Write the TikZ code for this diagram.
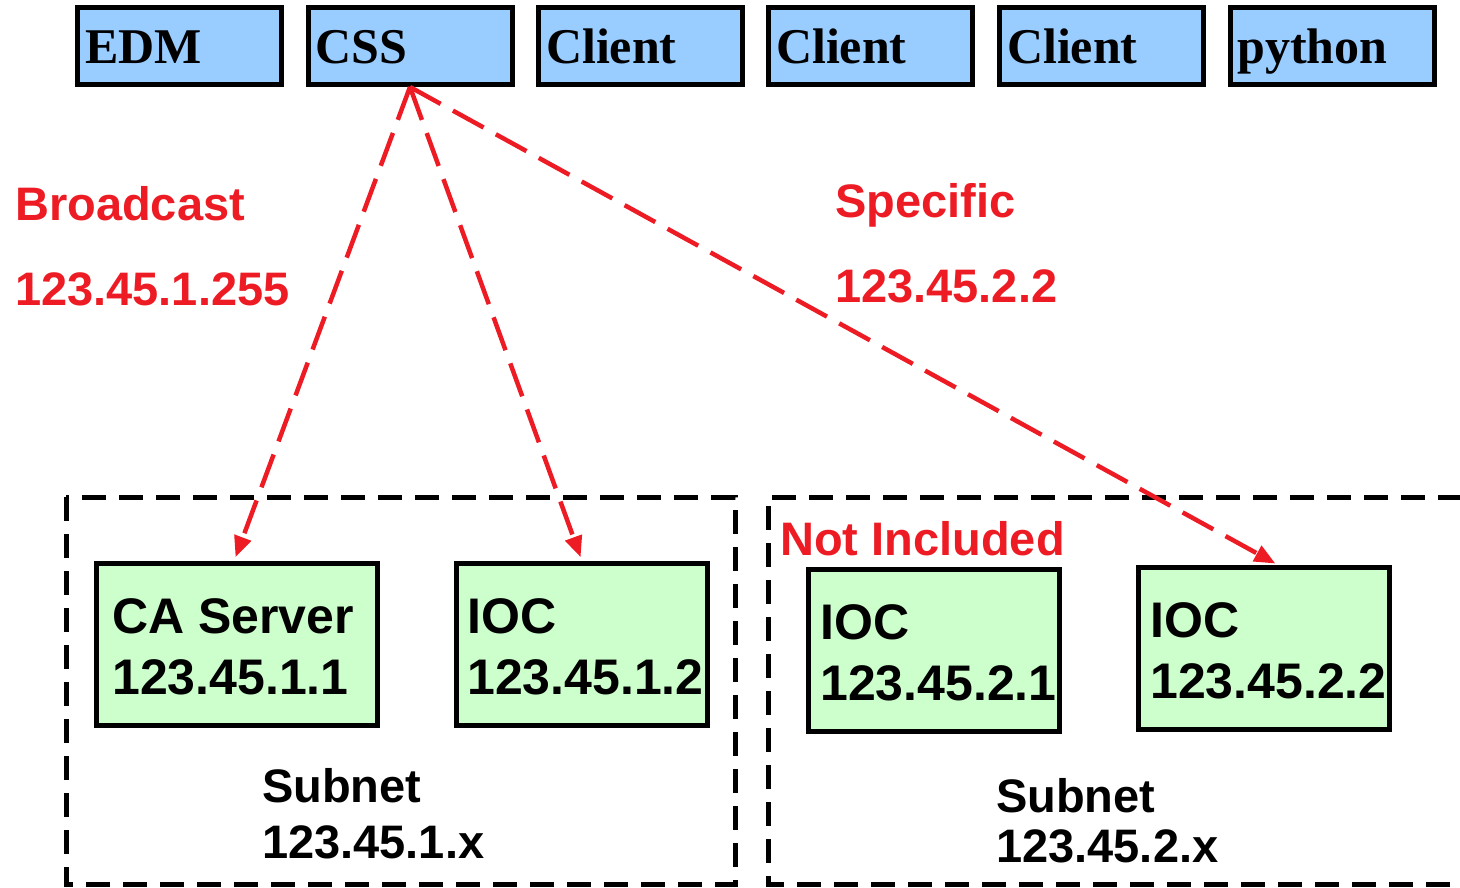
\documentclass[tikz,border=0pt]{standalone}
\usepackage{fontspec}
\setmainfont{Liberation Serif}
\newfontfamily\labelsans{Liberation Sans}
\usetikzlibrary{arrows.meta,calc}
\definecolor{hostblue}{HTML}{99CCFF}
\definecolor{iocgreen}{HTML}{CCFFCC}
\definecolor{pathred}{HTML}{ED1C24}
\begin{document}
\begin{tikzpicture}[x=1pt,y=-1pt,
  client/.style={draw=black, line width=5pt, fill=hostblue,
    minimum width=204pt, minimum height=77pt, inner xsep=7.5pt, inner ysep=0pt,
    text width=189pt, align=left, text height=36pt, text depth=0pt,
    font=\fontsize{50}{60}\selectfont\bfseries},
  server/.style={draw=black, line width=5pt, fill=iocgreen,
    minimum width=251pt, minimum height=162pt, inner sep=0pt},
  subnetbox/.style={draw=black, line width=5pt, dash pattern=on 24pt off 13pt},
  tag/.style={anchor=base west, inner sep=0pt, font=\labelsans\fontsize{50}{60}\selectfont\bfseries},
  note/.style={anchor=base west, inner sep=0pt, text=pathred, font=\labelsans\fontsize{47}{56}\selectfont\bfseries},
  sublabel/.style={anchor=base west, inner sep=0pt, font=\labelsans\fontsize{47}{56}\selectfont\bfseries},
  cast/.style={draw=pathred, line width=4.5pt, dash pattern=on 35pt off 14pt,
    -{Triangle[length=21pt,width=17pt]}}]
\useasboundingbox (0,0) rectangle (1460,888);

% client programs along the top
\node[client] (edm)  at (179.5,46)  {EDM};
\node[client] (css)  at (410,46)    {CSS};
\node[client] (cl1)  at (640.5,46)  {Client};
\node[client] (cl2)  at (870.5,46)  {Client};
\node[client] (cl3)  at (1101.5,46) {Client};
\node[client] (py)   at (1332,46)   {python};

% the two subnets
\draw[subnetbox] (66,497) rectangle (735,884);
\draw[subnetbox] (1462,497) -- (768,497) -- (768,884) -- (1462,884);

% servers
\node[server, minimum width=281pt] (ca) at (237,644.5) {};
\node[server] (ioc12) at (582,644.5)  {};
\node[server] (ioc21) at (934,650.5)  {};
\node[server] (ioc22) at (1264,648.5) {};

\node[tag] (ca-a)    at (112,633)  {CA Server};
\node[tag] (ca-b)    at (112,694)  {123.45.1.1};
\node[tag] (ioc12-a) at (467,633)  {IOC};
\node[tag] (ioc12-b) at (467,694)  {123.45.1.2};
\node[tag] (ioc21-a) at (820,639)  {IOC};
\node[tag] (ioc21-b) at (820,700)  {123.45.2.1};
\node[tag] (ioc22-a) at (1150,637) {IOC};
\node[tag] (ioc22-b) at (1150,698) {123.45.2.2};

\node[sublabel] (sub1-a) at (262,802) {Subnet};
\node[sublabel] (sub1-b) at (262,858) {123.45.1.x};
\node[sublabel] (sub2-a) at (996,812) {Subnet};
\node[sublabel] (sub2-b) at (996,862) {123.45.2.x};

% search request annotations
\node[note] (bc-a)   at (15,220)  {Broadcast};
\node[note] (bc-b)   at (15,305)  {123.45.1.255};
\node[note] (sp-a)   at (835,217) {Specific};
\node[note] (sp-b)   at (835,302) {123.45.2.2};
\node[note] (excl)   at (780,555) {Not Included};

% search requests sent by CSS
\draw[cast, shorten >=4pt] (css.south) -- ($(ca.north west)!0.49!(ca.north east)$);
\draw[cast, shorten >=4pt] (css.south) -- ($(ioc12.north west)!0.50!(ioc12.north east)$);
\draw[cast, shorten >=3pt] (css.south) -- ($(ioc22.north west)!0.555!(ioc22.north east)$);
\end{tikzpicture}
\end{document}
